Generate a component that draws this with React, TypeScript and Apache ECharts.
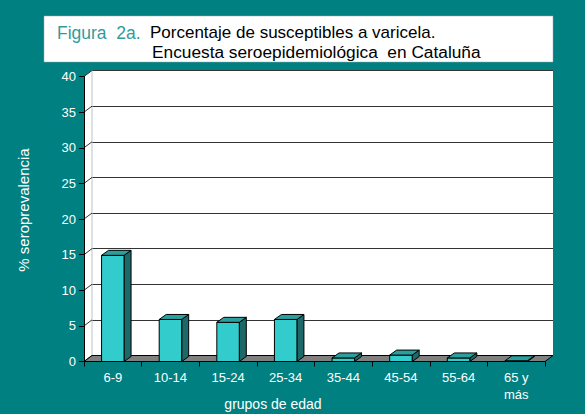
import React, { useEffect, useRef } from "react";
import * as echarts from "echarts";

const categories = ["6-9", "10-14", "15-24", "25-34", "35-44", "45-54", "55-64", "65 y\nmás"];
const values = [14.9, 5.9, 5.5, 5.9, 0.5, 0.9, 0.5, 0.1];
const yTicks = [0, 5, 10, 15, 20, 25, 30, 35, 40];
const yMin = 0;
const yMax = 40;
const yStep = 5;

const titleFigure = "Figura  2a.";
const titleLine1 = "Porcentaje de susceptibles a varicela.";
const titleLine2 = "Encuesta seroepidemiológica  en Cataluña";
const yName = "% seroprevalencia";
const xName = "grupos de edad";

const FONT = "'Liberation Sans', Arial, Helvetica, sans-serif";
const DX = 8;
const DY = -6;
const BDX = 7;
const BDY = -5;

export default function App() {
  const ref = useRef<HTMLDivElement>(null);
  useEffect(() => {
    if (!ref.current) return;
    const chart = echarts.init(ref.current, null, { renderer: "svg" });

    const renderWalls = (params: any, api: any) => {
      const cs = params.coordSys;
      const left = cs.x;
      const right = cs.x + cs.width;
      const top = cs.y;
      const bottom = cs.y + cs.height;
      const children: any[] = [];
      children.push({
        type: "polygon",
        shape: { points: [[left, top], [left + DX, top + DY], [left + DX, bottom + DY], [left, bottom]] },
        style: { fill: "#ffffff" },
      });
      children.push({
        type: "line",
        shape: { x1: left + DX, y1: top + DY, x2: left + DX, y2: bottom + DY },
        style: { stroke: "#b9c6ca", lineWidth: 1 },
      });
      yTicks.forEach((t) => {
        const y = api.coord([0, t])[1];
        children.push({
          type: "line",
          shape: { x1: left, y1: y, x2: left + DX, y2: y + DY },
          style: { stroke: "#333333", lineWidth: 1 },
        });
      });
      children.push({
        type: "polygon",
        shape: { points: [[left, bottom], [left + DX, bottom + DY], [right + DX, bottom + DY], [right, bottom]] },
        style: { fill: "#808080", stroke: "#000000", lineWidth: 1 },
      });
      return { type: "group", children };
    };

    const renderBars = (params: any, api: any) => {
      const i = api.value(0);
      const v = api.value(1);
      const topPt = api.coord([i, v]);
      const basePt = api.coord([i, 0]);
      const w = api.size([1, 0])[0] * 0.39;
      const x0 = topPt[0] - w / 2;
      const x1 = topPt[0] + w / 2;
      const yT = topPt[1];
      const yB = basePt[1];
      return {
        type: "group",
        children: [
          {
            type: "polygon",
            shape: { points: [[x1, yT], [x1 + BDX, yT + BDY], [x1 + BDX, yB + BDY], [x1, yB]] },
            style: { fill: "#1D6868", stroke: "#000", lineWidth: 1 },
          },
          {
            type: "rect",
            shape: { x: x0, y: yT, width: w, height: yB - yT },
            style: { fill: "#33CCCC", stroke: "#000", lineWidth: 1 },
          },
          {
            type: "polygon",
            shape: { points: [[x0, yT], [x0 + BDX, yT + BDY], [x1 + BDX, yT + BDY], [x1, yT]] },
            style: { fill: "#2B9E9E", stroke: "#000", lineWidth: 1 },
          },
        ],
      };
    };

    chart.setOption({
      animation: false,
      backgroundColor: "#008080",
      textStyle: { fontFamily: FONT },
      grid: [
        { left: 84, right: 40, top: 76.5, bottom: 52.5, show: false },
        {
          left: 84 + DX,
          right: 40 - DX,
          top: 76.5 + DY,
          bottom: 52.5 - DY,
          show: true,
          backgroundColor: "#ffffff",
          borderWidth: 0,
        },
      ],
      xAxis: [
        {
          type: "category",
          gridIndex: 0,
          data: categories,
          boundaryGap: true,
          z: 10,
          axisLine: { show: true, lineStyle: { color: "#000", width: 1 } },
          axisTick: { show: true, length: 5, inside: false, lineStyle: { color: "#000" } },
          axisLabel: {
            color: "#ffffff",
            fontSize: 13,
            fontFamily: FONT,
            margin: 7,
            lineHeight: 17,
            interval: 0,
          },
          splitLine: { show: false },
        },
        {
          type: "category",
          gridIndex: 1,
          data: categories,
          show: false,
        },
      ],
      yAxis: [
        {
          type: "value",
          gridIndex: 0,
          min: yMin,
          max: yMax,
          interval: yStep,
          z: 10,
          axisLine: { show: true, lineStyle: { color: "#000", width: 1 } },
          axisTick: { show: true, length: 5, inside: false, lineStyle: { color: "#000" } },
          axisLabel: { color: "#ffffff", fontSize: 13, fontFamily: FONT, margin: 8 },
          splitLine: { show: false },
        },
        {
          type: "value",
          gridIndex: 1,
          min: yMin,
          max: yMax,
          interval: yStep,
          axisLine: { show: false },
          axisTick: { show: false },
          axisLabel: { show: false },
          splitLine: { show: true, lineStyle: { color: "#333333", width: 1 } },
        },
      ],
      graphic: [
        {
          type: "rect",
          shape: { x: 44, y: 16, width: 509, height: 46 },
          style: { fill: "#ffffff", stroke: "#9aa9a9", lineWidth: 0.5 },
        },
        {
          type: "text",
          x: 57,
          y: 32.5,
          style: { text: titleFigure, fill: "#2F9C9C", fontSize: 17.5, fontFamily: FONT, align: "left", verticalAlign: "middle" },
        },
        {
          type: "text",
          x: 150,
          y: 32.5,
          style: { text: titleLine1, fill: "#000000", fontSize: 17, fontFamily: FONT, align: "left", verticalAlign: "middle" },
        },
        {
          type: "text",
          x: 152,
          y: 52,
          style: { text: titleLine2, fill: "#000000", fontSize: 17.3, fontFamily: FONT, align: "left", verticalAlign: "middle" },
        },
        {
          type: "text",
          x: 23,
          y: 210,
          rotation: Math.PI / 2,
          style: { text: yName, fill: "#ffffff", fontSize: 15, fontFamily: FONT, align: "center", verticalAlign: "middle" },
        },
        {
          type: "text",
          x: 273,
          y: 404,
          style: { text: xName, fill: "#ffffff", fontSize: 14, fontFamily: FONT, align: "center", verticalAlign: "middle" },
        },
      ],
      series: [
        {
          type: "custom",
          name: "walls",
          xAxisIndex: 0,
          yAxisIndex: 0,
          z: 1,
          silent: true,
          data: [[0, 0]],
          renderItem: renderWalls,
        },
        {
          type: "custom",
          name: "susceptibles",
          xAxisIndex: 0,
          yAxisIndex: 0,
          z: 3,
          data: values.map((v, i) => [i, v]),
          renderItem: renderBars,
        },
      ],
    });
    return () => chart.dispose();
  }, []);
  return <div ref={ref} style={{ position: "absolute", left: 0, top: 0, width: 585, height: 414 }} />;
}
